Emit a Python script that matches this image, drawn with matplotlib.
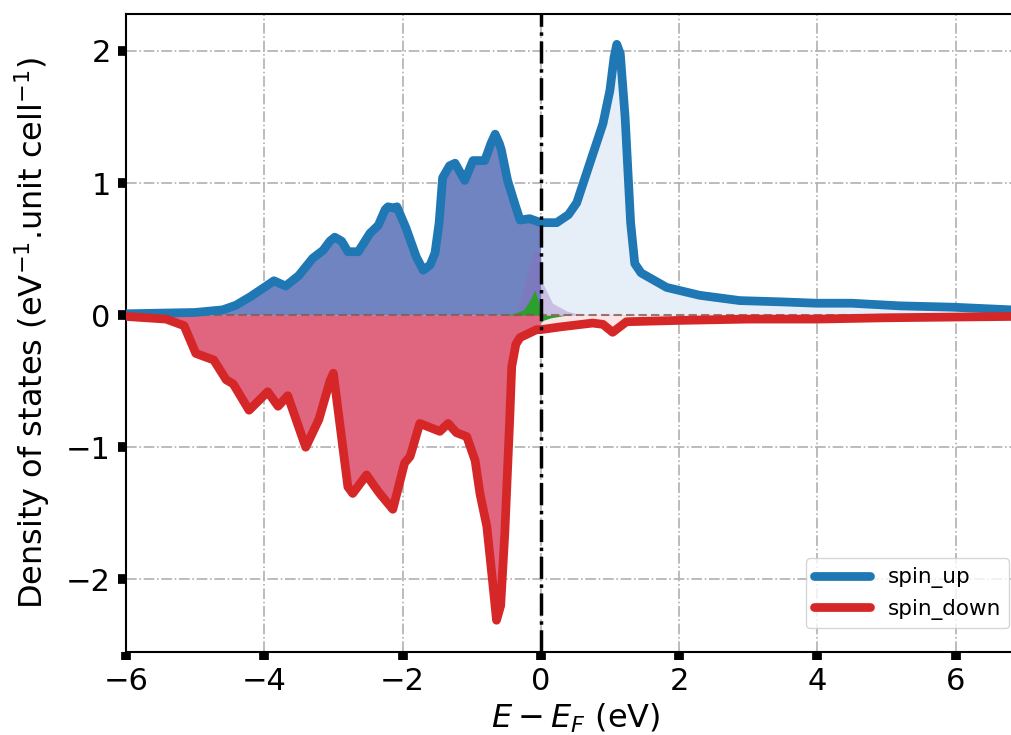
import matplotlib
matplotlib.use("Agg")
import matplotlib.pyplot as plt
import numpy as np

# spin up total DOS (energy in eV relative to E_F)
e_up = [-6.0, -5.0, -4.6, -4.41, -4.2, -4.0, -3.86, -3.69, -3.5, -3.30, -3.15, -3.05, -2.98,
        -2.88, -2.79, -2.64, -2.47, -2.35, -2.25, -2.21, -2.12, -2.08, -1.95, -1.80, -1.70, -1.60,
        -1.53, -1.47, -1.42, -1.32, -1.24, -1.10, -1.02, -0.98, -0.81, -0.72, -0.66, -0.60, -0.57,
        -0.48, -0.38, -0.30, -0.16, 0.0, 0.23, 0.40, 0.52, 0.71, 0.90, 1.00, 1.06, 1.10, 1.15,
        1.22, 1.30, 1.36, 1.45, 1.82, 2.3, 2.88, 3.5, 3.99, 4.5, 5.2, 5.96, 6.8]
dos_up = [0.01, 0.02, 0.04, 0.075, 0.14, 0.21, 0.26, 0.22, 0.30, 0.43, 0.49, 0.56, 0.59,
          0.56, 0.48, 0.48, 0.62, 0.68, 0.80, 0.82, 0.81, 0.82, 0.66, 0.44, 0.34, 0.38,
          0.47, 0.70, 1.04, 1.13, 1.15, 1.02, 1.12, 1.17, 1.17, 1.30, 1.37, 1.30, 1.25,
          1.02, 0.85, 0.72, 0.73, 0.70, 0.70, 0.76, 0.85, 1.15, 1.45, 1.70, 1.95, 2.05, 1.98,
          1.50, 0.70, 0.39, 0.32, 0.21, 0.15, 0.11, 0.10, 0.09, 0.09, 0.07, 0.06, 0.04]

# spin down total DOS
e_dn = [-6.0, -5.42, -5.16, -4.99, -4.73, -4.55, -4.45, -4.22, -3.95, -3.80, -3.66,
        -3.40, -3.21, -3.05, -3.0, -2.90, -2.79, -2.72, -2.52, -2.40, -2.33, -2.14, -1.97,
        -1.89, -1.75, -1.46, -1.34, -1.22, -1.07, -0.95, -0.88, -0.78, -0.70, -0.64, -0.58,
        -0.52, -0.45, -0.42, -0.36, -0.30, -0.06, 0.0, 0.27, 0.75, 0.9, 1.04, 1.24, 2.0, 3.0,
        4.0, 5.0, 6.8]
dos_dn = [-0.01, -0.03, -0.08, -0.29, -0.34, -0.49, -0.52, -0.72, -0.58, -0.69, -0.61,
          -1.0, -0.79, -0.50, -0.44, -0.85, -1.30, -1.35, -1.21, -1.30, -1.35, -1.47, -1.12,
          -1.07, -0.82, -0.88, -0.82, -0.89, -0.92, -1.10, -1.35, -1.60, -2.0, -2.31, -2.2,
          -1.65, -0.80, -0.39, -0.22, -0.17, -0.11, -0.11, -0.09, -0.06, -0.07, -0.13, -0.05,
          -0.04, -0.03, -0.03, -0.02, -0.01]

# small projected contributions near E_F
e_green = [-0.6, -0.4, -0.25, -0.15, -0.09, -0.04, 0.0]
pdos_green = [0.0, 0.01, 0.04, 0.12, 0.19, 0.12, 0.0]
e_green_dn = [0.0, 0.03, 0.15, 0.38]
pdos_green_dn = [-0.06, -0.04, -0.02, 0.0]
e_purple = [-0.35, -0.2, -0.1, 0.0, 0.03, 0.17, 0.38, 0.6]
pdos_purple = [0.0, 0.3, 0.5, 0.45, 0.24, 0.09, 0.03, 0.0]

e_up = np.array(e_up); dos_up = np.array(dos_up)
e_dn = np.array(e_dn); dos_dn = np.array(dos_dn)

plt.rcParams['font.family'] = ['DejaVu Sans']
fig = plt.figure(figsize=(10.12, 7.35), dpi=100)
ax = fig.add_axes([0.1245, 0.113, 0.888, 0.868])

# filled occupied / unoccupied regions
ax.fill_between(e_up, dos_up, 0, where=e_up <= 0, color='#7084c1', lw=0, zorder=1)
ax.fill_between(e_up, dos_up, 0, where=e_up >= 0, color='#e6eff8', lw=0, zorder=1)
ax.fill_between(e_dn, dos_dn, 0, where=e_dn <= 0, color='#e0657f', lw=0, zorder=1)
ax.fill_between(e_dn, dos_dn, 0, where=e_dn >= 0, color='#fbe5e6', lw=0, zorder=1)

ax.fill_between(e_purple, pdos_purple, 0, color='tab:purple', alpha=0.35, lw=0, zorder=2)
ax.fill_between(e_green, pdos_green, 0, color='tab:green', lw=0, zorder=2)
ax.fill_between(e_green_dn, pdos_green_dn, 0, color='tab:green', lw=0, zorder=2)
ax.axhline(0.003, color='tab:brown', lw=1.5, ls=(0, (4, 2)), alpha=0.8, zorder=2)

ax.plot(e_up, dos_up, color='tab:blue', lw=6.3, label='spin_up', zorder=3,
        solid_joinstyle='round', solid_capstyle='round')
ax.plot(e_dn, dos_dn, color='tab:red', lw=6.3, label='spin_down', zorder=4,
        solid_joinstyle='round', solid_capstyle='round')

ax.axvline(0, color='black', lw=2.5, ls='-.', zorder=5)

ax.set_xlim(-6, 7)
ax.set_ylim(-2.55, 2.28)
ax.set_xticks([-6, -4, -2, 0, 2, 4, 6])
ax.set_yticks([-2, -1, 0, 1, 2])
ax.grid(True, color='#b0b0b0', ls='-.', lw=1.2, zorder=0)
ax.set_axisbelow(True)

ax.tick_params(labelsize=22, direction='out', length=6, width=7, pad=5)
for s in ax.spines.values():
    s.set_linewidth(1.5)

ax.set_xlabel('$E-E_F$ (eV)', fontsize=23, labelpad=4)
ax.set_ylabel('Density of states (eV$^{-1}$.unit cell$^{-1}$)', fontsize=23, labelpad=10)

leg = ax.legend(loc='lower right', fontsize=15.5, handlelength=2.6,
                bbox_to_anchor=(0.995, 0.02))

fig.savefig('out.png', dpi=100)
